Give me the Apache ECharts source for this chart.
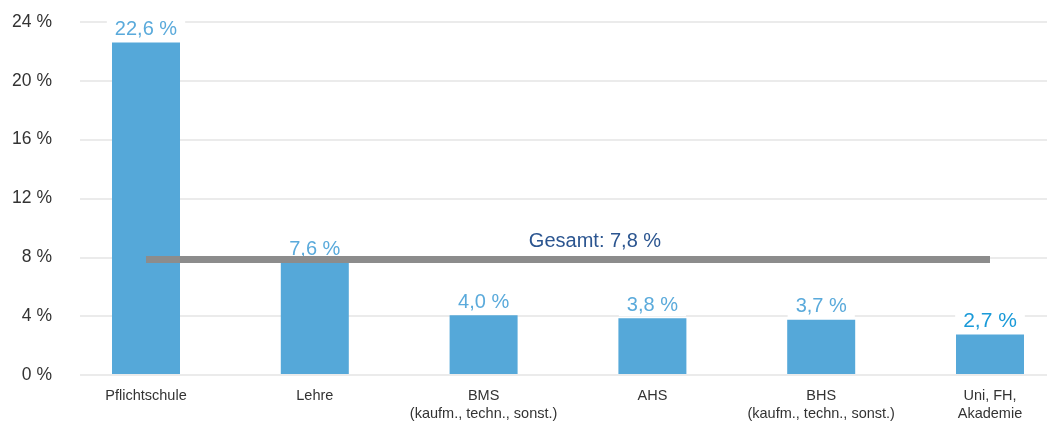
<!DOCTYPE html>
<html>
<head>
<meta charset="utf-8">
<script src="https://cdn.jsdelivr.net/npm/echarts@6/dist/echarts.min.js"></script>
<style>
  html, body { margin: 0; padding: 0; background: #ffffff; }
  #chart { width: 1047px; height: 423px; }
</style>
</head>
<body>
<div id="chart"></div>
<script>
// Arbeitslosenquote nach höchster abgeschlossener Ausbildung
const categories = [
  'Pflichtschule',
  'Lehre',
  'BMS\n(kaufm., techn., sonst.)',
  'AHS',
  'BHS\n(kaufm., techn., sonst.)',
  'Uni, FH,\nAkademie'
];
const rates = [22.6, 7.6, 4.0, 3.8, 3.7, 2.7];
const totalRate = 7.8;
const yTicks = [0, 4, 8, 12, 16, 20, 24];

const fmt = v => v.toFixed(1).replace('.', ',') + ' %';
const FONT = 'Liberation Sans, Arial, sans-serif';

const chart = echarts.init(document.getElementById('chart'));

const barData = rates.map((v, i) => {
  const last = i === rates.length - 1;
  return {
    value: v,
    label: last ? { color: '#1a9ad8', fontSize: 21 } : {}
  };
});

chart.setOption({
  animation: false,
  grid: [
    { left: 80, right: 0, top: 22, bottom: 48 },
    { left: 146, right: 57, top: 22, bottom: 48 }
  ],
  xAxis: [
    { gridIndex: 0, type: 'value', show: false, min: 0, max: 1 },
    {
      gridIndex: 1,
      type: 'category',
      data: categories,
      boundaryGap: false,
      axisLine: { show: false },
      axisTick: { show: false },
      axisLabel: {
        color: '#333333',
        fontSize: 14.5,
        fontFamily: FONT,
        lineHeight: 18,
        margin: 13,
        interval: 0
      }
    }
  ],
  yAxis: [
    {
      gridIndex: 0,
      type: 'value',
      min: yTicks[0],
      max: yTicks[yTicks.length - 1],
      interval: 4,
      axisLine: { show: false },
      axisTick: { show: false },
      splitLine: { lineStyle: { color: '#e4e4e4', width: 1.5 } },
      axisLabel: {
        color: '#333333',
        fontSize: 17.5,
        fontFamily: FONT,
        margin: 28,
        formatter: v => v + ' %'
      }
    },
    {
      gridIndex: 1,
      type: 'value',
      min: yTicks[0],
      max: yTicks[yTicks.length - 1],
      interval: 4,
      show: false
    }
  ],
  series: [
    {
      type: 'bar',
      xAxisIndex: 1,
      yAxisIndex: 1,
      data: barData,
      barWidth: 68,
      clip: false,
      itemStyle: { color: '#55a8d9' },
      label: {
        show: true,
        position: 'top',
        distance: 2,
        color: '#5aaadb',
        fontSize: 20,
        fontFamily: FONT,
        backgroundColor: '#ffffff',
        padding: [1, 8, 1, 8],
        formatter: p => fmt(p.value)
      },
      markLine: {
        silent: true,
        symbol: ['none', 'none'],
        lineStyle: { color: '#8c8c8c', width: 7, type: 'solid', cap: 'butt' },
        label: {
          show: true,
          position: 'middle',
          distance: 8,
          color: '#2b5590',
          fontSize: 20,
          fontFamily: FONT,
          padding: [0, 0, 0, 54],
          formatter: 'Gesamt: ' + fmt(totalRate)
        },
        data: [[
          { xAxis: 0, yAxis: totalRate },
          { xAxis: categories.length - 1, yAxis: totalRate }
        ]]
      }
    }
  ]
});
</script>
</body>
</html>
